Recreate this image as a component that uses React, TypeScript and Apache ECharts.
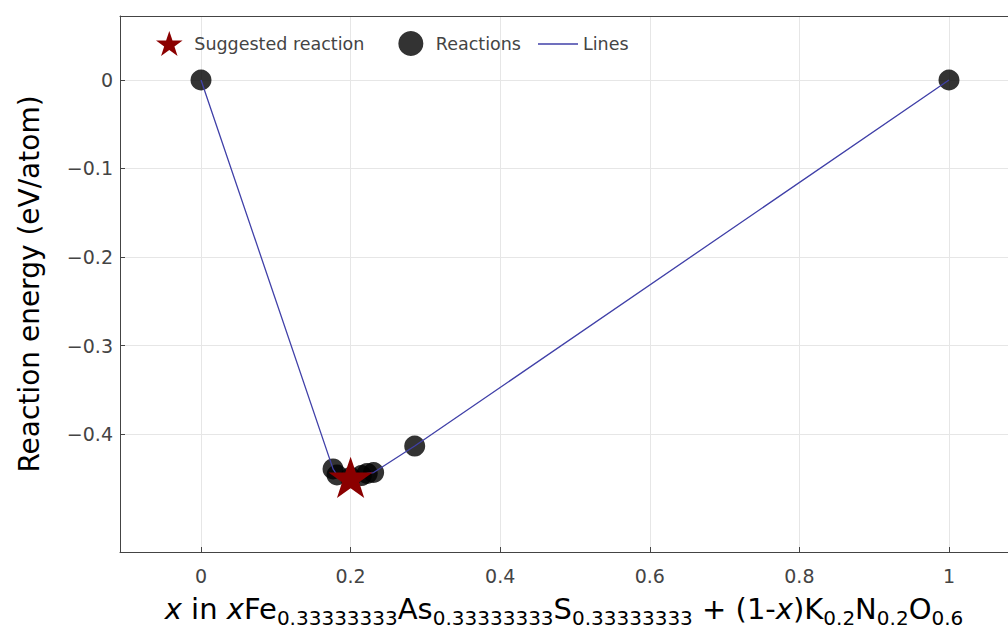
import React, { useEffect, useRef } from "react";
import * as echarts from "echarts";

const reactionX = [0, 0.1765, 0.1818, 0.2, 0.2143, 0.2222, 0.2308, 0.2857, 1];
const reactionY = [0, -0.4394, -0.4463, -0.449, -0.447, -0.4445, -0.4435, -0.4136, 0];
const suggestedX = [0.2];
const suggestedY = [-0.449];
const xTicks = [0, 0.2, 0.4, 0.6, 0.8, 1];
const yTicks = [0, -0.1, -0.2, -0.3, -0.4];

const FONT = "DejaVu Sans";
const STAR =
  "path://M50,0 L61.8,35.1 L98.9,35.1 L68.9,56.8 L80.3,91.9 L50,70.2 L19.7,91.9 L31.1,56.8 L1.1,35.1 L38.2,35.1 Z";
const LINE_ICON = "path://M0,0 L40,0 L40,1.4 L0,1.4 Z";

const X_MIN = -0.1083;
const X_MAX = 1.0789;
const Y_MIN = -0.5333;
const Y_MAX = 0.0723;

const fmt = (v: number) => {
  const s = String(Math.round(v * 1000) / 1000);
  return s.replace("-", "\u2212");
};

const legendBase = {
  itemWidth: 40,
  itemHeight: 25,
  itemGap: 34,
  padding: 0,
  textStyle: { fontSize: 17.5, color: "#444", fontFamily: FONT },
};

export default function App() {
  const ref = useRef<HTMLDivElement>(null);
  useEffect(() => {
    if (!ref.current) return;
    const chart = echarts.init(ref.current, null, { renderer: "svg" });
    const pts = reactionX.map((x, i) => [x, reactionY[i]]);
    chart.setOption({
      animation: false,
      backgroundColor: "#fff",
      textStyle: { fontFamily: FONT },
      grid: { left: 120, top: 16, right: 0, bottom: 81 },
      legend: [
        {
          ...legendBase,
          top: 31,
          left: 156,
          data: [{ name: "Suggested reaction" }, { name: "Reactions" }],
        },
        {
          ...legendBase,
          top: 35,
          left: 538,
          data: [{ name: "Lines", icon: LINE_ICON }],
        },
      ],
      xAxis: [
        {
          type: "value",
          min: X_MIN,
          max: X_MAX,
          axisLine: { show: true, onZero: false, lineStyle: { color: "#444", width: 1 } },
          axisTick: {
            show: true,
            inside: true,
            length: 5,
            lineStyle: { color: "#444" },
            customValues: xTicks,
          },
          axisLabel: {
            customValues: xTicks,
            formatter: fmt,
            fontSize: 19,
            color: "#444",
            fontFamily: FONT,
            margin: 14,
          },
          splitLine: { show: true, lineStyle: { color: "#e6e6e6", width: 1 } },
          name:
            "{i|x} in {i|x}Fe{s|0.33333333}As{s|0.33333333}S{s|0.33333333} + (1-{i|x})K{s|0.2}N{s|0.2}O{s|0.6}",
          nameLocation: "middle",
          nameGap: 38,
          nameTextStyle: {
            fontSize: 29,
            color: "#000",
            fontFamily: FONT,
            lineHeight: 38,
            rich: {
              i: { fontStyle: "italic", fontSize: 29, color: "#000", fontFamily: FONT, lineHeight: 38 },
              s: { fontSize: 20, color: "#000", fontFamily: FONT, lineHeight: 20, verticalAlign: "bottom" },
            },
          },
        },
        {
          type: "value",
          position: "top",
          min: X_MIN,
          max: X_MAX,
          axisLine: { show: true, onZero: false, lineStyle: { color: "#444", width: 1 } },
          axisTick: { show: false },
          axisLabel: { show: false },
          splitLine: { show: false },
        },
      ],
      yAxis: {
        type: "value",
        min: Y_MIN,
        max: Y_MAX,
        axisLine: { show: true, onZero: false, lineStyle: { color: "#444", width: 1 } },
        axisTick: {
          show: true,
          inside: true,
          length: 5,
          lineStyle: { color: "#444" },
          customValues: yTicks,
        },
        axisLabel: {
          customValues: yTicks,
          formatter: fmt,
          fontSize: 19,
          color: "#444",
          fontFamily: FONT,
          margin: 7,
        },
        splitLine: { show: true, lineStyle: { color: "#e6e6e6", width: 1 } },
        name: "Reaction energy (eV/atom)",
        nameLocation: "middle",
        nameGap: 77,
        nameTextStyle: { fontSize: 28, color: "#000", fontFamily: FONT },
      },
      series: [
        {
          name: "Reactions",
          type: "scatter",
          data: pts,
          symbol: "circle",
          symbolSize: 21,
          itemStyle: { color: "#000", opacity: 0.8 },
          z: 2,
        },
        {
          name: "Lines",
          type: "line",
          data: pts,
          showSymbol: false,
          symbol: "none",
          lineStyle: { color: "#4040a8", width: 1.3 },
          itemStyle: { color: "#4040a8" },
          z: 3,
        },
        {
          name: "Suggested reaction",
          type: "scatter",
          data: suggestedX.map((x, i) => [x, suggestedY[i]]),
          symbol: STAR,
          symbolKeepAspect: true,
          symbolSize: 44,
          itemStyle: { color: "#8b0000", opacity: 1 },
          z: 4,
        },
      ],
    });
    return () => chart.dispose();
  }, []);
  return (
    <div
      ref={ref}
      style={{ position: "absolute", left: 0, top: 0, width: 1008, height: 633 }}
    />
  );
}
